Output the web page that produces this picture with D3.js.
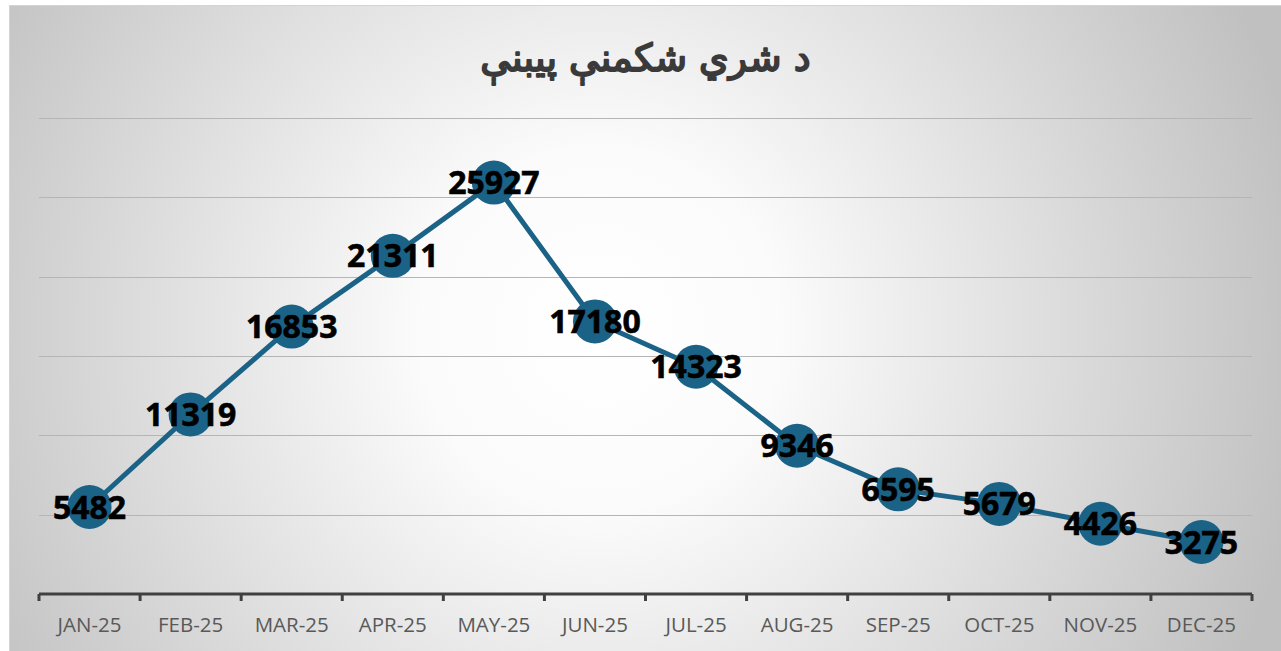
<!DOCTYPE html>
<html lang="ps">
<head>
    <meta charset="UTF-8">
    <title>د شري شكمنې پيبنې</title>
    <script src="https://d3js.org/d3.v7.min.js"></script>
    <style>
        body {
            margin: 0;
            padding: 0;
            background: #ffffff;
        }
    </style>
</head>
<body>
    <div id="wrapper"></div>
    <script>
        // 1. Data
        const months = ["JAN-25", "FEB-25", "MAR-25", "APR-25", "MAY-25", "JUN-25",
                        "JUL-25", "AUG-25", "SEP-25", "OCT-25", "NOV-25", "DEC-25"]
        const cases = [5482, 11319, 16853, 21311, 25927, 17180, 14323, 9346, 6595, 5679, 4426, 3275]
        const yTicks = [0, 5000, 10000, 15000, 20000, 25000, 30000]
        const chartTitle = "د شري شكمنې پيبنې"

        // 2. Dimensions
        let dimensions = {
            width: 1281,
            height: 651,
            margin: { top: 118, right: 29, bottom: 57, left: 39 },
        }
        dimensions.boundedWidth = dimensions.width - dimensions.margin.left - dimensions.margin.right
        dimensions.boundedHeight = dimensions.height - dimensions.margin.top - dimensions.margin.bottom

        const color = "#1b6287"

        // 3. Canvas
        const wrapper = d3.select("#wrapper")
            .append("svg")
                .attr("width", dimensions.width)
                .attr("height", dimensions.height)
                .style("display", "block")

        const defs = wrapper.append("defs")
        const grad = defs.append("radialGradient")
            .attr("id", "bg")
            .attr("gradientUnits", "userSpaceOnUse")
            .attr("cx", 600).attr("cy", 330).attr("r", 720)
        grad.append("stop").attr("offset", "0%").attr("stop-color", "#ffffff")
        grad.append("stop").attr("offset", "25%").attr("stop-color", "#fbfbfb")
        grad.append("stop").attr("offset", "100%").attr("stop-color", "#c0c0c0")

        wrapper.append("rect")
            .attr("x", 9.5).attr("y", 5.5)
            .attr("width", dimensions.width - 9)
            .attr("height", dimensions.height - 5)
            .attr("fill", "url(#bg)")
            .attr("stroke", "#d4d4d4")
            .attr("stroke-width", 1)

        // title: regular DejaVu has the full Pashto set, stroke makes it bold
        wrapper.append("text")
            .attr("x", dimensions.margin.left + dimensions.boundedWidth / 2)
            .attr("y", 71)
            .attr("text-anchor", "middle")
            .attr("font-family", "'DejaVu Sans', sans-serif")
            .attr("font-size", 38)
            .attr("fill", "#3a3a3a")
            .attr("stroke", "#3a3a3a")
            .attr("stroke-width", 1.8)
            .attr("stroke-linejoin", "round")
            .text(chartTitle)

        const bounds = wrapper.append("g")
            .attr("transform", `translate(${dimensions.margin.left},${dimensions.margin.top})`)

        // 4. Scales
        const xScale = d3.scaleBand()
            .domain(months)
            .range([0, dimensions.boundedWidth])

        const yScale = d3.scaleLinear()
            .domain([0, 30000])
            .range([dimensions.boundedHeight, 0])

        // 5. Gridlines
        bounds.append("g")
            .selectAll("line")
            .data(yTicks.slice(1))
            .join("line")
                .attr("x1", 0)
                .attr("x2", dimensions.boundedWidth)
                .attr("y1", d => Math.round(yScale(d)) + 0.5)
                .attr("y2", d => Math.round(yScale(d)) + 0.5)
                .attr("stroke", "#b5b5b5")
                .attr("stroke-width", 1)

        // 6. Axis
        const xAxisGenerator = d3.axisBottom(xScale)
            .tickSize(0)
            .tickPadding(23)

        const xAxis = bounds.append("g")
            .attr("transform", `translate(0,${dimensions.boundedHeight})`)
            .call(xAxisGenerator)
        xAxis.select(".domain")
            .attr("stroke", "#404040")
            .attr("stroke-width", 3)
            .attr("d", `M0,0H${dimensions.boundedWidth}`)
        xAxis.selectAll("text")
            .attr("font-family", "'Open Sans', sans-serif")
            .attr("font-size", 20.5)
            .attr("fill", "#595959")

        const boundaries = months.map(m => xScale(m)).concat([dimensions.boundedWidth])
        bounds.append("g")
            .selectAll("line")
            .data(boundaries)
            .join("line")
                .attr("x1", d => d)
                .attr("x2", d => d)
                .attr("y1", dimensions.boundedHeight)
                .attr("y2", dimensions.boundedHeight + 7)
                .attr("stroke", "#404040")
                .attr("stroke-width", 3)

        // 7. Line and markers
        const xAccessor = (d, i) => xScale(months[i]) + xScale.bandwidth() / 2
        const lineGenerator = d3.line()
            .x(xAccessor)
            .y(d => yScale(d))

        bounds.append("path")
            .attr("d", lineGenerator(cases))
            .attr("fill", "none")
            .attr("stroke", color)
            .attr("stroke-width", 5)
            .attr("stroke-linejoin", "round")

        bounds.append("g")
            .selectAll("circle")
            .data(cases)
            .join("circle")
                .attr("cx", xAccessor)
                .attr("cy", d => yScale(d))
                .attr("r", 22)
                .attr("fill", color)

        bounds.append("g")
            .selectAll("text")
            .data(cases)
            .join("text")
                .attr("x", xAccessor)
                .attr("y", d => yScale(d))
                .attr("dy", "0.36em")
                .attr("text-anchor", "middle")
                .attr("font-family", "'Open Sans', sans-serif")
                .attr("font-weight", "bold")
                .attr("font-size", 32)
                .attr("fill", "#000000")
                .attr("stroke", "#000000")
                .attr("stroke-width", 0.6)
                .text(d => d)
    </script>
</body>
</html>
